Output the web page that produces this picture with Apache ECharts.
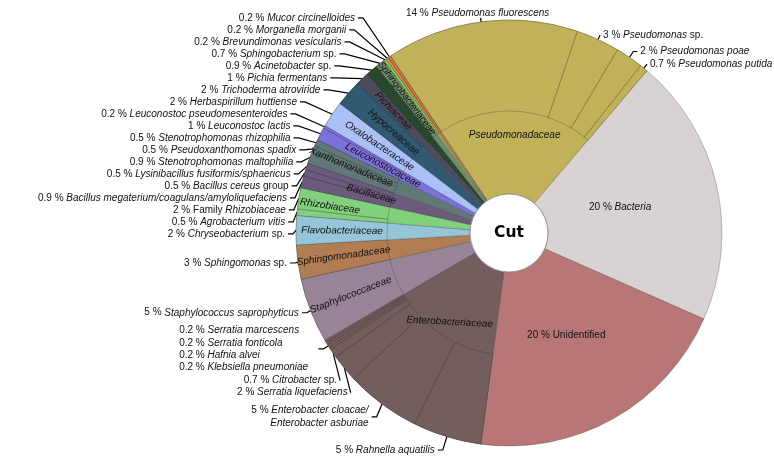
<!DOCTYPE html>
<html><head><meta charset="utf-8">
<script src="https://cdn.jsdelivr.net/npm/echarts@6/dist/echarts.min.js"></script>
<style>html,body{margin:0;padding:0;background:#fff}#c{width:774px;height:456px}</style>
</head><body><div id="c"></div>
<script>
// ---------- DATA (clockwise from the top-left edge of Pseudomonadaceae) ----------
const familyNames = ['Pseudomonadaceae','Bacteria','Unidentified','Enterobacteriaceae','Staphylococcaceae',
  'Sphingomonadaceae','Flavobacteriaceae','Rhizobiaceae','Bacillaceae','Xanthomonadaceae','Leuconostocaceae',
  'Oxalobacteraceae','Hypocreaceae','Pichiaceae','Moraxellaceae','Sphingobacteriaceae','Caulobacteraceae',
  'Morganellaceae','Mucoraceae'];
// own value for top-level leaves (no species ring)
const leafFamilyValues = {'Bacteria': 20.4, 'Unidentified': 20.5};
const leafFamilyPctText = {'Bacteria': '20', 'Unidentified': '20'};

const speciesNames = ['Pseudomonas fluorescens','Pseudomonas sp.','Pseudomonas poae','Pseudomonas putida',
  'Rahnella aquatilis','Enterobacter cloacae/\nEnterobacter asburiae','Serratia liquefaciens','Citrobacter sp.',
  'Klebsiella pneumoniae','Hafnia alvei','Serratia fonticola','Serratia marcescens',
  'Staphylococcus saprophyticus','Sphingomonas sp.','Chryseobacterium sp.',
  'Agrobacterium vitis','Family Rhizobiaceae',
  'Bacillus megaterium/coagulans/amyloliquefaciens','Bacillus cereus group','Lysinibacillus fusiformis/sphaericus',
  'Stenotrophomonas maltophilia','Pseudoxanthomonas spadix','Stenotrophomonas rhizophilia',
  'Leuconostoc lactis','Leuconostoc pseudomesenteroides','Herbaspirillum huttiense','Trichoderma atroviride',
  'Pichia fermentans','Acinetobacter sp.','Sphingobacterium sp.','Brevundimonas vesicularis',
  'Morganella morganii','Mucor circinelloides'];
const speciesValues = [14.6,3.3,2.1,0.6, 5.2,5.7,2.1,0.7, 0.2,0.2,0.2,0.2, 4.9,2.6,2.2, 0.5,1.6, 0.9,0.5,0.5,
  0.9,0.5,0.5, 1.0,0.2, 2.0,2.0, 1.0,0.9,0.7,0.2, 0.2,0.2];
const speciesPctText = ['14','3','2','0.7', '5','5','2','0.7', '0.2','0.2','0.2','0.2', '5','3','2', '0.5','2',
  '0.9','0.5','0.5', '0.9','0.5','0.5', '1','0.2', '2','2', '1','0.9','0.7','0.2', '0.2','0.2'];
const speciesFamily = ['Pseudomonadaceae','Pseudomonadaceae','Pseudomonadaceae','Pseudomonadaceae',
  'Enterobacteriaceae','Enterobacteriaceae','Enterobacteriaceae','Enterobacteriaceae',
  'Enterobacteriaceae','Enterobacteriaceae','Enterobacteriaceae','Enterobacteriaceae',
  'Staphylococcaceae','Sphingomonadaceae','Flavobacteriaceae','Rhizobiaceae','Rhizobiaceae',
  'Bacillaceae','Bacillaceae','Bacillaceae','Xanthomonadaceae','Xanthomonadaceae','Xanthomonadaceae',
  'Leuconostocaceae','Leuconostocaceae','Oxalobacteraceae','Hypocreaceae','Pichiaceae','Moraxellaceae',
  'Sphingobacteriaceae','Caulobacteraceae','Morganellaceae','Mucoraceae'];
// species shown together under one bracketed label (top to bottom)
const groupedSpecies = ['Serratia marcescens','Serratia fonticola','Hafnia alvei','Klebsiella pneumoniae'];
const groupCarrier = 'Hafnia alvei';
const topCentredSpecies = 'Pseudomonas fluorescens';
const centreTitle = 'Cut';

// ---------- STYLE ----------
const familyColors = {
  Pseudomonadaceae:'#c1b25a', Bacteria:'#d8d2d2', Unidentified:'#b97676', Enterobacteriaceae:'#745d5d',
  Staphylococcaceae:'#978597', Sphingomonadaceae:'#b27d52', Flavobacteriaceae:'#96c5d9', Rhizobiaceae:'#81d07c',
  Bacillaceae:'#6c5b7c', Xanthomonadaceae:'#607878', Leuconostocaceae:'#7c70da', Oxalobacteraceae:'#abc0f7',
  Hypocreaceae:'#2f5a72', Pichiaceae:'#4b4b5d', Moraxellaceae:'#27482b', Sphingobacteriaceae:'#6d8c6d',
  Caulobacteraceae:'#7fd44a', Morganellaceae:'#e08a50', Mucoraceae:'#c97a3e'
};
// family label placement: radius of label centre, rotation, font size
const familyLabelStyle = {
  Pseudomonadaceae:{r:95,rot:0,fs:10}, Enterobacteriaceae:{r:104,rot:-3,fs:10},
  Bacteria:{r:111,rot:0,fs:10}, Unidentified:{r:114,rot:0,fs:10},
  Staphylococcaceae:{r:167,rot:'radial',fs:10}, Sphingomonadaceae:{r:164,rot:'radial',fs:10},
  Flavobacteriaceae:{r:164,rot:'radial',fs:10}, Rhizobiaceae:{r:178,rot:'radial',fs:10},
  Bacillaceae:{r:140,rot:'radial',fs:10}, Xanthomonadaceae:{r:168,rot:'radial',fs:10},
  Leuconostocaceae:{r:140,rot:'radial',fs:10}, Oxalobacteraceae:{r:153,rot:'radial',fs:10},
  Hypocreaceae:{r:150,rot:'radial',fs:10}, Pichiaceae:{r:165,rot:'radial',fs:10},
  Moraxellaceae:{r:111,rot:'radial',fs:10}, Sphingobacteriaceae:{r:166,rot:'radial',fs:9.5},
  Caulobacteraceae:{r:120,rot:'radial',fs:7.5}, Morganellaceae:{r:190,rot:'radial',fs:7.5},
  Mucoraceae:{r:145,rot:'radial',fs:7.5}
};
// leader-line overrides for labels of crowded / right-hand slices
const leaderStyle = {
  'Mucor circinelloides':{length:47}, 'Morganella morganii':{length:36},
  'Brevundimonas vesicularis':{length:24}, 'Sphingobacterium sp.':{length:16}, 'Acinetobacter sp.':{length:11},
  'Herbaspirillum huttiense':{length:26}, 'Leuconostoc pseudomesenteroides':{length:30},
  'Leuconostoc lactis':{length:21}, 'Stenotrophomonas rhizophilia':{length:16},
  'Enterobacter cloacae/\nEnterobacter asburiae':{length:16}, 'Rahnella aquatilis':{length:14},
  'Pseudomonas sp.':{length:5,length2:0}, 'Pseudomonas poae':{length:7,length2:4},
  'Pseudomonas putida':{length:5,length2:0}
};
const CX = 509, CY = 233, R_IN = 39, R_MID = 122, R_OUT = 213;
const START = 123.8;
const FONT = '"Liberation Sans", Arial, sans-serif';
const FS = 10;
const LH = 9.2;        // single-line label box (ECharts adds ~2px margin when stacking)
const LH_MULTI = 12.3; // line spacing of multi-line labels
const BORDER = 'rgba(40,40,40,0.45)';
const NORMAL_WORDS = ['sp.','group','Family','Unidentified'];

// ---------- BUILD ----------
function richName(name, multi){
  const s = multi ? '2' : '';
  return name.split('\n').map(line => line.split(' ').map((w,k,arr) => {
    const sp = k < arr.length-1 ? ' ' : '';
    return (NORMAL_WORDS.includes(w) ? '{n'+s+'|' : '{i'+s+'|') + w + sp + '}';
  }).join('')).join('\n');
}
function pctLabel(pct, name){
  const multi = name.indexOf('\n') >= 0;
  const lines = richName(name, multi).split('\n');
  lines[0] = '{n' + (multi ? '2' : '') + '|' + pct + ' % }' + lines[0];
  return lines.join('\n');
}
const familyValues = familyNames.map(f => {
  if (leafFamilyValues[f] != null) return leafFamilyValues[f];
  let s = 0; speciesFamily.forEach((sf,i) => { if (sf === f) s += speciesValues[i]; });
  return +s.toFixed(3);
});

const rich = {
  n:{fontFamily:FONT,fontSize:FS,color:'#111',lineHeight:LH},
  i:{fontFamily:FONT,fontSize:FS,color:'#111',fontStyle:'italic',lineHeight:LH},
  n2:{fontFamily:FONT,fontSize:FS,color:'#111',lineHeight:LH_MULTI},
  i2:{fontFamily:FONT,fontSize:FS,color:'#111',fontStyle:'italic',lineHeight:LH_MULTI},
  gn:{fontFamily:FONT,fontSize:FS,color:'#111',lineHeight:LH_MULTI,align:'left'},
  gi:{fontFamily:FONT,fontSize:FS,color:'#111',fontStyle:'italic',lineHeight:LH_MULTI,width:108,align:'left'}
};

// outer ring data (+ a transparent twin used only for the top-centred label)
const outerData = [];
const topLabelData = [];
familyNames.forEach((f,fi) => {
  if (leafFamilyValues[f] != null) {
    outerData.push({name:f, value:familyValues[fi], itemStyle:{color:'rgba(0,0,0,0)',borderWidth:0},
      label:{show:false}, labelLine:{show:false}});
    topLabelData.push({name:f, value:familyValues[fi], label:{show:false}, labelLine:{show:false}});
    return;
  }
  speciesFamily.forEach((sf,i) => {
    if (sf !== f) return;
    const name = speciesNames[i];
    const item = {name:name, value:speciesValues[i], itemStyle:{color:familyColors[f]}};
    const twin = {name:name, value:speciesValues[i], label:{show:false}, labelLine:{show:false}};
    if (groupedSpecies.includes(name)) {
      if (name === groupCarrier) {
        item.label = {formatter: groupedSpecies.map(g => '{gn|' + speciesPctText[speciesNames.indexOf(g)] + ' % }{gi|' + g + '}').join('\n')};
      } else {
        item.label = {show:false}; item.labelLine = {show:false};
      }
    } else if (name === topCentredSpecies) {
      item.label = {show:false}; item.labelLine = {show:false};
      twin.label = {show:true, formatter: pctLabel(speciesPctText[i], name)};
      twin.labelLine = {show:true, length:4, length2:0};
    } else {
      item.label = {formatter: pctLabel(speciesPctText[i], name)};
      if (leaderStyle[name]) item.labelLine = leaderStyle[name];
    }
    outerData.push(item);
    topLabelData.push(twin);
  });
});

const series = [];
// family (full radius) ring
series.push({
  type:'pie', center:[CX,CY], radius:[R_IN,R_OUT], startAngle:START, silent:true, animation:false,
  emphasis:{disabled:true},
  itemStyle:{borderColor:BORDER,borderWidth:0.6},
  label:{show:false}, labelLine:{show:false},
  data: familyNames.map((f,i) => ({name:f, value:familyValues[i], itemStyle:{color:familyColors[f]}}))
});
const outerLabel = {show:true, position:'outside', rich:rich, color:'#111', fontFamily:FONT, fontSize:FS,
  lineHeight:LH, distanceToLabelLine:3};
const outerLine = {show:true, length:6, length2:5, lineStyle:{color:'#000', width:1.2}};
// species ring
series.push({
  type:'pie', left:0, top:0, width:1000, height:456,
  center:[CX,CY], radius:[R_MID,R_OUT], startAngle:START, silent:true, animation:false,
  emphasis:{disabled:true},
  itemStyle:{borderColor:BORDER,borderWidth:0.6},
  label:outerLabel, labelLine:outerLine, avoidLabelOverlap:true,
  data: outerData
});
// label of the big top slice, centred above it
series.push({
  type:'pie', left:0, top:0, width:1000, height:456,
  center:[CX,CY], radius:[R_MID,R_OUT], startAngle:START, silent:true, animation:false,
  emphasis:{disabled:true}, z:4,
  itemStyle:{color:'rgba(0,0,0,0)', borderWidth:0},
  label:outerLabel, labelLine:outerLine,
  labelLayout: function(p){
    return {align:'center', verticalAlign:'bottom'};
  },
  data: topLabelData
});
// family labels: one transparent ring per family, sized so the label sits at the wanted radius
familyNames.forEach((f,fi) => {
  const st = familyLabelStyle[f];
  const txt = leafFamilyPctText[f] != null ? pctLabel(leafFamilyPctText[f], f) : '{i|' + f + '}';
  series.push({
    type:'pie', center:[CX,CY], radius:[st.r-1, st.r+1], startAngle:START, silent:true, animation:false,
    emphasis:{disabled:true}, z:5,
    itemStyle:{color:'rgba(0,0,0,0)', borderWidth:0},
    labelLine:{show:false},
    label:{show:false},
    data: familyNames.map((g,i) => ({name:g, value:familyValues[i],
      label: i === fi ? {show:true, position:'inside', rotate:st.rot, formatter:txt,
        rich:{n:{fontFamily:FONT,fontSize:st.fs,color:'#111'}, i:{fontFamily:FONT,fontSize:st.fs,color:'#111',fontStyle:'italic'}}} : {show:false}
    }))
  });
});
// centre disc
series.push({
  type:'pie', center:[CX,CY], radius:[0,R_IN], silent:true, animation:false, emphasis:{disabled:true}, z:6,
  itemStyle:{color:'#fff', borderColor:'#999', borderWidth:1},
  label:{show:true, position:'center', formatter:centreTitle, fontFamily:'"DejaVu Sans", sans-serif',
    fontWeight:'bold', fontSize:15.5, color:'#000'},
  labelLine:{show:false},
  data:[{name:centreTitle, value:1}]
});

const chart = echarts.init(document.getElementById('c'), null, {renderer:'canvas'});
chart.setOption({backgroundColor:'#fff', animation:false, series:series});
</script></body></html>
